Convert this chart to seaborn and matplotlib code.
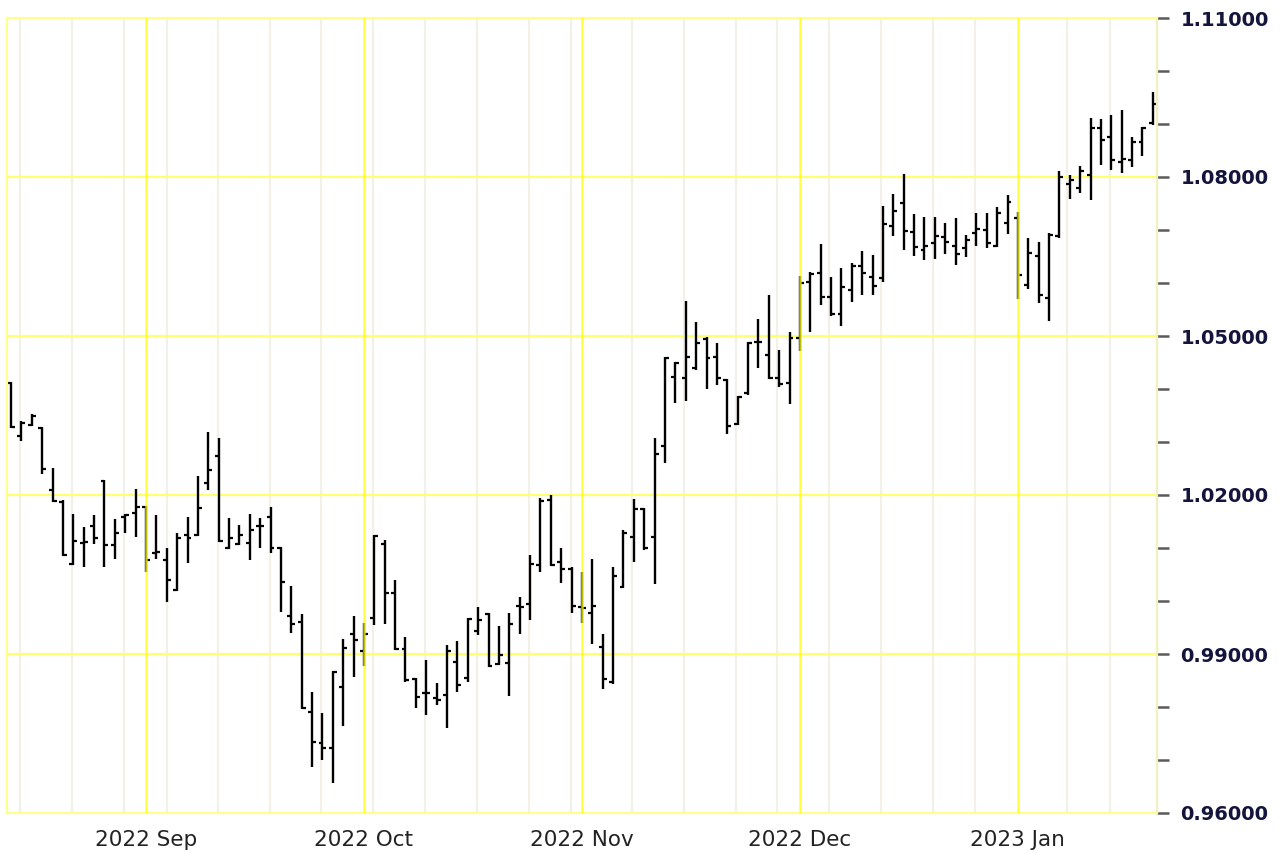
import numpy as np
import pandas as pd
import matplotlib
matplotlib.use("Agg")
import matplotlib.pyplot as plt
import seaborn as sns

# daily OHLC bars, mid Aug 2022 .. Jan 2023
opens = [1.0411, 1.0311, 1.0332, 1.0326, 1.0209, 1.0187, 1.0070, 1.0109, 1.0142, 1.0226,
         1.0106, 1.0159, 1.0166, 1.0177, 1.0091, 1.0077, 1.0021, 1.0125, 1.0125, 1.0223,
         1.0274, 1.0100, 1.0108, 1.0109, 1.0142, 1.0159, 1.0100, 0.9972, 0.9960, 0.9791,
         0.9732, 0.9723, 0.9838, 0.9938, 0.9906, 0.9968, 1.0108, 1.0015, 0.9910, 0.9853,
         0.9826, 0.9817, 0.9823, 0.9885, 0.9855, 0.9943, 0.9976, 0.9881, 0.9883, 0.9991,
         0.9994, 1.0068, 1.0191, 1.0074, 1.0060, 0.9989, 0.9977, 0.9913, 0.9847, 1.0026,
         1.0121, 1.0174, 1.0121, 1.0292, 1.0423, 1.0421, 1.0440, 1.0494, 1.0460, 1.0417,
         1.0334, 1.0392, 1.0489, 1.0464, 1.0421, 1.0411, 1.0496, 1.0602, 1.0619, 1.0574,
         1.0542, 1.0587, 1.0632, 1.0611, 1.0609, 1.0708, 1.0751, 1.0696, 1.0662, 1.0675,
         1.0687, 1.0670, 1.0666, 1.0694, 1.0700, 1.0670, 1.0713, 1.0723, 1.0596, 1.0651,
         1.0572, 1.0689, 1.0787, 1.0779, 1.0804, 1.0892, 1.0875, 1.0828, 1.0832, 1.0866,
         1.0902]
highs = [1.0413, 1.0340, 1.0353, 1.0328, 1.0251, 1.0191, 1.0164, 1.0140, 1.0162, 1.0228,
         1.0155, 1.0164, 1.0211, 1.0179, 1.0162, 1.0100, 1.0128, 1.0159, 1.0236, 1.0319,
         1.0308, 1.0157, 1.0143, 1.0164, 1.0157, 1.0177, 1.0102, 1.0028, 0.9976, 0.9828,
         0.9789, 0.9868, 0.9928, 0.9972, 0.9959, 1.0125, 1.0115, 1.0040, 0.9932, 0.9855,
         0.9889, 0.9845, 0.9917, 0.9925, 0.9968, 0.9989, 0.9978, 0.9953, 0.9978, 1.0008,
         1.0087, 1.0194, 1.0200, 1.0100, 1.0064, 1.0055, 1.0079, 0.9938, 1.0064, 1.0134,
         1.0192, 1.0176, 1.0308, 1.0460, 1.0451, 1.0566, 1.0526, 1.0498, 1.0487, 1.0419,
         1.0387, 1.0489, 1.0532, 1.0577, 1.0474, 1.0508, 1.0613, 1.0621, 1.0674, 1.0611,
         1.0628, 1.0638, 1.0660, 1.0653, 1.0745, 1.0768, 1.0806, 1.0730, 1.0725, 1.0725,
         1.0713, 1.0723, 1.0691, 1.0732, 1.0732, 1.0743, 1.0766, 1.0734, 1.0685, 1.0677,
         1.0694, 1.0811, 1.0804, 1.0821, 1.0911, 1.0909, 1.0917, 1.0926, 1.0875, 1.0894,
         1.0960]
lows = [1.0326, 1.0302, 1.0330, 1.0240, 1.0187, 1.0085, 1.0068, 1.0064, 1.0108, 1.0064,
        1.0079, 1.0128, 1.0121, 1.0055, 1.0079, 0.9998, 1.0019, 1.0072, 1.0123, 1.0209,
        1.0111, 1.0098, 1.0106, 1.0077, 1.0100, 1.0091, 0.9979, 0.9940, 0.9796, 0.9687,
        0.9700, 0.9657, 0.9764, 0.9857, 0.9877, 0.9955, 0.9957, 0.9908, 0.9847, 0.9798,
        0.9785, 0.9804, 0.9760, 0.9828, 0.9847, 0.9936, 0.9876, 0.9879, 0.9821, 0.9938,
        0.9964, 1.0055, 1.0066, 1.0034, 0.9977, 0.9959, 0.9919, 0.9834, 0.9843, 1.0024,
        1.0074, 1.0096, 1.0032, 1.0260, 1.0374, 1.0377, 1.0436, 1.0400, 1.0408, 1.0315,
        1.0332, 1.0389, 1.0440, 1.0419, 1.0404, 1.0372, 1.0472, 1.0508, 1.0558, 1.0538,
        1.0519, 1.0564, 1.0577, 1.0577, 1.0602, 1.0689, 1.0662, 1.0651, 1.0643, 1.0645,
        1.0655, 1.0634, 1.0649, 1.0670, 1.0666, 1.0668, 1.0692, 1.0570, 1.0589, 1.0562,
        1.0528, 1.0685, 1.0758, 1.0770, 1.0757, 1.0823, 1.0813, 1.0808, 1.0819, 1.0840,
        1.0898]
closes = [1.0328, 1.0336, 1.0349, 1.0249, 1.0189, 1.0087, 1.0113, 1.0111, 1.0119, 1.0106,
          1.0128, 1.0162, 1.0177, 1.0077, 1.0092, 1.0040, 1.0119, 1.0119, 1.0176, 1.0247,
          1.0113, 1.0119, 1.0125, 1.0134, 1.0142, 1.0100, 1.0036, 0.9957, 0.9798, 0.9734,
          0.9723, 0.9866, 0.9911, 0.9926, 0.9938, 1.0123, 1.0015, 0.9910, 0.9851, 0.9819,
          0.9827, 0.9813, 0.9906, 0.9842, 0.9966, 0.9964, 0.9877, 0.9898, 0.9957, 0.9989,
          1.0070, 1.0189, 1.0068, 1.0060, 0.9991, 0.9987, 0.9991, 0.9853, 1.0047, 1.0128,
          1.0174, 1.0100, 1.0277, 1.0458, 1.0449, 1.0460, 1.0487, 1.0458, 1.0421, 1.0330,
          1.0385, 1.0487, 1.0489, 1.0421, 1.0409, 1.0496, 1.0600, 1.0617, 1.0574, 1.0542,
          1.0592, 1.0632, 1.0619, 1.0594, 1.0711, 1.0736, 1.0698, 1.0668, 1.0670, 1.0689,
          1.0677, 1.0655, 1.0681, 1.0702, 1.0675, 1.0732, 1.0753, 1.0615, 1.0657, 1.0577,
          1.0691, 1.0800, 1.0794, 1.0811, 1.0892, 1.0870, 1.0832, 1.0834, 1.0866, 1.0892,
          1.0938]

month_labels = ["2022 Sep", "2022 Oct", "2022 Nov", "2022 Dec", "2023 Jan"]
month_bars = [13, 34, 55, 76, 97]
week_bars = [0.9, 5.9, 10.9, 15.0, 19.9, 24.9, 29.9, 34.9, 39.9, 44.9, 49.9, 53.9,
             59.8, 64.8, 69.8, 73.8, 78.8, 83.8, 88.8, 92.9, 101.7, 105.9]
price_ticks = [0.96, 0.99, 1.02, 1.05, 1.08, 1.11]

df = pd.DataFrame({"open": opens, "high": highs, "low": lows, "close": closes})
df["bar"] = np.arange(len(df))

sns.set_style("white")
plt.rcParams["font.family"] = ["DejaVu Sans"]

fig = plt.figure(figsize=(12.83, 8.52), dpi=100)
ax = fig.add_axes([7 / 1283, 1 - 813 / 852, 1150 / 1283, 795 / 852])

# grid
for w in week_bars:
    ax.axvline(w, color="#f3f0e7", lw=1.6, zorder=0)
for p in price_ticks:
    ax.axhline(p, color="#ffff70", lw=1.6, zorder=0.5)
for m in month_bars:
    ax.axvline(m, color="#ffff00", lw=1.8, alpha=0.75, zorder=3)

# OHLC bars
ax.vlines(df["bar"], df["low"], df["high"], color="black", lw=1.7, zorder=2)
ax.hlines(df["open"], df["bar"] - 0.38, df["bar"], color="black", lw=1.6, zorder=2)
ax.hlines(df["close"], df["bar"], df["bar"] + 0.38, color="black", lw=1.6, zorder=2)

ax.set_xlim(-0.39, 110.4)
ax.set_ylim(0.96, 1.11)

for s in ["left", "top", "bottom"]:
    ax.spines[s].set_color("#ffff90")
    ax.spines[s].set_linewidth(1.6)
ax.spines["right"].set_color("#f0f0c0")
ax.spines["right"].set_linewidth(1.6)

ax.yaxis.tick_right()
ax.set_yticks(price_ticks)
ax.set_yticks(np.arange(0.96, 1.1101, 0.01), minor=True)
ax.set_yticklabels([f"{p:.5f}" for p in price_ticks], fontsize=14, fontweight="bold",
                   color="#14143c")
ax.tick_params(axis="y", which="both", right=True, length=8.5, width=1.8, color="#5a5a5a",
               direction="out", pad=8.5)

ax.set_xticks(month_bars)
ax.set_xticklabels(month_labels, fontsize=15.5, color="#222222")
ax.tick_params(axis="x", length=0, pad=12)

fig.savefig("out.png", dpi=100)
